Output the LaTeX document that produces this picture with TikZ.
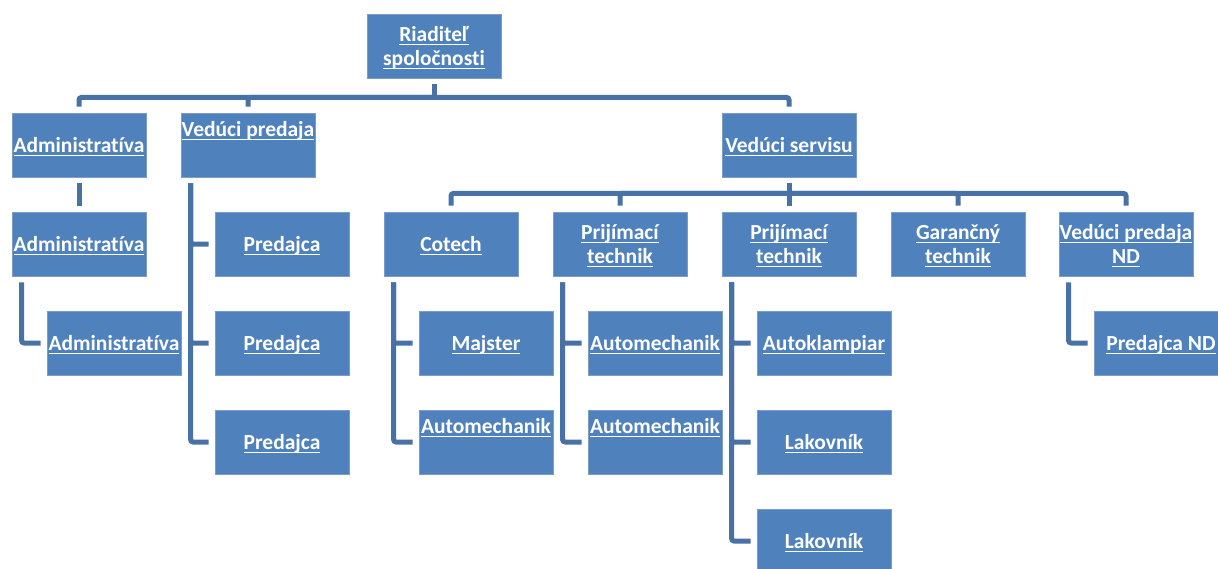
\documentclass[tikz,border=0pt]{standalone}
\usepackage{fontspec}
\setmainfont{Carlito}[Ligatures=NoCommon]
\definecolor{boxfill}{RGB}{79,129,189}
\definecolor{boxedge}{RGB}{124,156,202}
\definecolor{linkcol}{RGB}{72,114,166}
\newcommand\undl[1]{\setbox0\hbox{#1}\rlap{\vrule width\wd0 height-2.4pt depth3.8pt}\box0}

\begin{document}
\begin{tikzpicture}[x=1pt,y=-1pt,
    box/.style={draw=boxedge,line width=.8pt,fill=boxfill,text=white,
      minimum width=134pt,minimum height=64pt,inner sep=0pt,align=center,
      text depth=0pt,font=\fontsize{21.5}{24}\selectfont\bfseries},
    topbox/.style={box,text depth=32pt},
    link/.style={draw=linkcol,line width=5pt,rounded corners=2.5pt,
      shorten <=6pt,shorten >=6pt}]
  \useasboundingbox (0,0) rectangle (1218,568);
  \node[box] (root) at (434,46) {\undl{Riaditeľ}\\\undl{spoločnosti}};
  \node[box] (adm1) at (79,145) {\undl{Administratíva}};
  \node[topbox] (vp) at (248,145) {\undl{Vedúci predaja}};
  \node[box] (vs) at (789,145) {\undl{Vedúci servisu}};
  \node[box] (adm2) at (79,244) {\undl{Administratíva}};
  \node[box] (adm3) at (114,343) {\undl{Administratíva}};
  \node[box] (pred1) at (282,244) {\undl{Predajca}};
  \node[box] (pred2) at (282,343) {\undl{Predajca}};
  \node[box] (pred3) at (282,442) {\undl{Predajca}};
  \node[box] (cotech) at (451,244) {\undl{Cotech}};
  \node[box] (majster) at (486,343) {\undl{Majster}};
  \node[topbox] (auto1) at (486,442) {\undl{Automechanik}};
  \node[box] (prij1) at (620,244) {\undl{Prijímací}\\\undl{technik}};
  \node[box] (auto2) at (655,343) {\undl{Automechanik}};
  \node[topbox] (auto3) at (655,442) {\undl{Automechanik}};
  \node[box] (prij2) at (789,244) {\undl{Prijímací}\\\undl{technik}};
  \node[box] (autokl) at (824,343) {\undl{Autoklampiar}};
  \node[box] (lak1) at (824,442) {\undl{Lakovník}};
  \node[box] (lak2) at (824,541) {\undl{Lakovník}};
  \node[box] (gar) at (958,244) {\undl{Garančný}\\\undl{technik}};
  \node[box] (vpnd) at (1126,244) {\undl{Vedúci predaja}\\\undl{ND}};
  \node[box] (prednd) at (1161,343) {\undl{Predajca ND}};

  \path (root.south) ++(0,19) coordinate (topbus);
  \draw[link,shorten >=0pt] (root) -- (topbus);
  \foreach \n in {adm1,vp,vs}
    \draw[link,shorten <=0pt] (topbus) -| (\n.north);
  \path (vs.south) ++(0,16) coordinate (srvbus);
  \draw[link,shorten >=0pt] (vs) -- (srvbus);
  \foreach \n in {cotech,prij1,prij2,gar,vpnd}
    \draw[link,shorten <=0pt] (srvbus) -| (\n.north);

  \draw[link] (adm1) -- (adm2);
  \draw[link] ([xshift=10pt]adm2.south west) |- (adm3.west);
  \foreach \n in {pred1,pred2,pred3}
    \draw[link] ([xshift=10pt]vp.south west) |- (\n.west);
  \foreach \n in {majster,auto1}
    \draw[link] ([xshift=10pt]cotech.south west) |- (\n.west);
  \foreach \n in {auto2,auto3}
    \draw[link] ([xshift=10pt]prij1.south west) |- (\n.west);
  \foreach \n in {autokl,lak1,lak2}
    \draw[link] ([xshift=10pt]prij2.south west) |- (\n.west);
  \draw[link] ([xshift=10pt]vpnd.south west) |- (prednd.west);
\end{tikzpicture}
\end{document}
